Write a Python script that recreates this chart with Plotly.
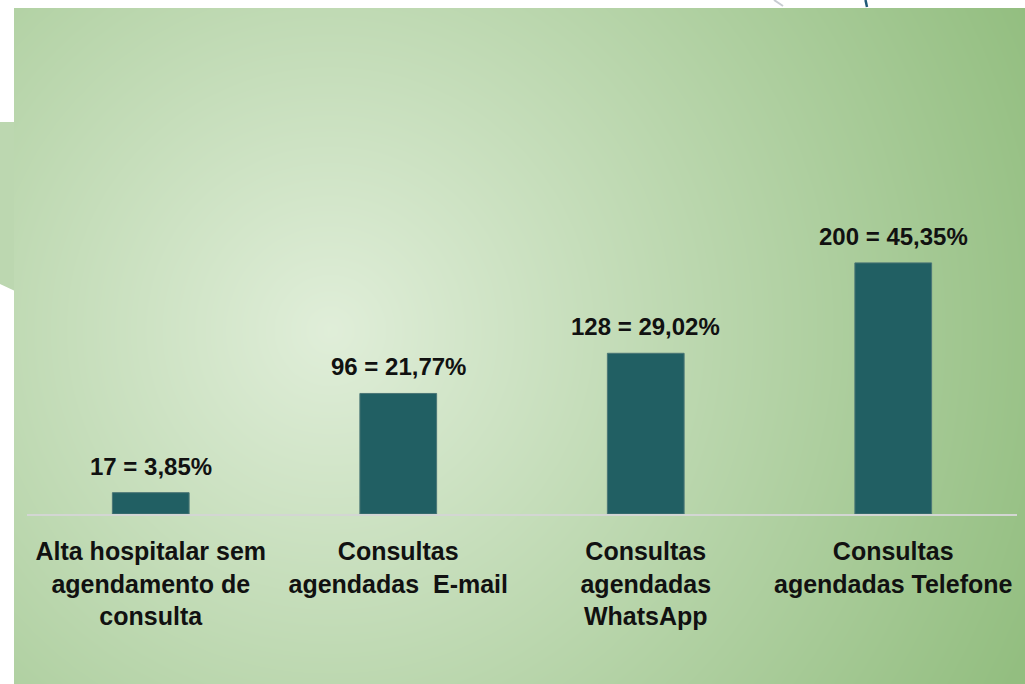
import numpy as np
import plotly.graph_objects as go

# ---- chart data -------------------------------------------------------------
categories = [
    "Alta hospitalar sem<br>agendamento de<br>consulta",
    "Consultas<br>agendadas\u00a0 E-mail",
    "Consultas<br>agendadas<br>WhatsApp",
    "Consultas<br>agendadas Telefone",
]
counts = [17, 96, 128, 200]
percent_labels = ["3,85%", "21,77%", "29,02%", "45,35%"]

W, H = 1025, 684
BAR_COLOR = "#215f63"
FONT = "Liberation Sans, Arial, sans-serif"

# ---- radial green backdrop (pixel grid) ---------------------------------------
gx = np.linspace(14, W, 120)
gy = np.linspace(8, H, 90)
cx, cy = 330.0, 330.0
GX, GY = np.meshgrid(gx, gy)
dist = np.sqrt((GX - cx) ** 2 + (GY - cy) ** 2)

fig = go.Figure()

fig.add_trace(go.Heatmap(
    x=gx, y=gy, z=dist,
    zmin=0, zmax=766,
    colorscale=[[0.0, "#e0eed9"], [1.0, "#93be80"]],
    zsmooth="best", showscale=False, hoverinfo="skip",
    xaxis="x", yaxis="y",
))

# ---- bars ------------------------------------------------------------------------
xcat = list(range(len(categories)))
fig.add_trace(go.Bar(
    x=xcat, y=counts,
    width=0.31,
    marker=dict(color=BAR_COLOR, line=dict(color="#4b7676", width=1)),
    hoverinfo="skip",
    xaxis="x2", yaxis="y2",
))

# value labels above each bar
for xi, c, p in zip(xcat, counts, percent_labels):
    fig.add_annotation(
        x=xi, y=c, xref="x2", yref="y2",
        text=f"{c} = {p}", showarrow=False,
        yanchor="bottom", yshift=11,
        font=dict(family=FONT, size=24, color="#111111", weight="bold"),
    )

# ---- page decorations --------------------------------------------------------
shapes = [
    # left tab of the green panel
    dict(type="path", xref="paper", yref="paper",
         path=f"M 0 {1-122/H} L {15/W} {1-122/H} L {15/W} {1-291/H} L 0 {1-284/H} Z",
         fillcolor="#bcd7b0", line=dict(width=0), layer="below"),
    # small strokes peeking above the panel at the top right
    dict(type="line", xref="paper", yref="paper",
         x0=774/W, y0=1.0, x1=783/W, y1=1-6/H,
         line=dict(color="#c8ccd2", width=2)),
    dict(type="line", xref="paper", yref="paper",
         x0=865.5/W, y0=1.0, x1=867/W, y1=1-7/H,
         line=dict(color="#1f5a78", width=2.5)),
]

fig.update_layout(
    width=W, height=H,
    margin=dict(l=0, r=0, t=0, b=0),
    paper_bgcolor="#ffffff",
    plot_bgcolor="rgba(0,0,0,0)",
    showlegend=False,
    shapes=shapes,
    xaxis=dict(domain=[14 / W, 1.0], range=[14, W], visible=False, fixedrange=True),
    yaxis=dict(domain=[0.0, 1 - 8 / H], range=[H, 8], visible=False, fixedrange=True),
    xaxis2=dict(
        domain=[27 / W, 1017 / W], range=[-0.5, 3.5],
        tickmode="array", tickvals=xcat, ticktext=categories,
        showline=True, linecolor="#d3d6d3", linewidth=2,
        showgrid=False, zeroline=False,
        ticks="", ticklabelstandoff=14,
        tickfont=dict(family=FONT, size=25, color="#111111", weight="bold"),
        automargin=False, anchor="y2",
    ),
    yaxis2=dict(
        domain=[(H - 514) / H, 1 - 8 / H], range=[0, 403],
        visible=False, anchor="x2",
    ),
)

fig.write_html("out.html")
